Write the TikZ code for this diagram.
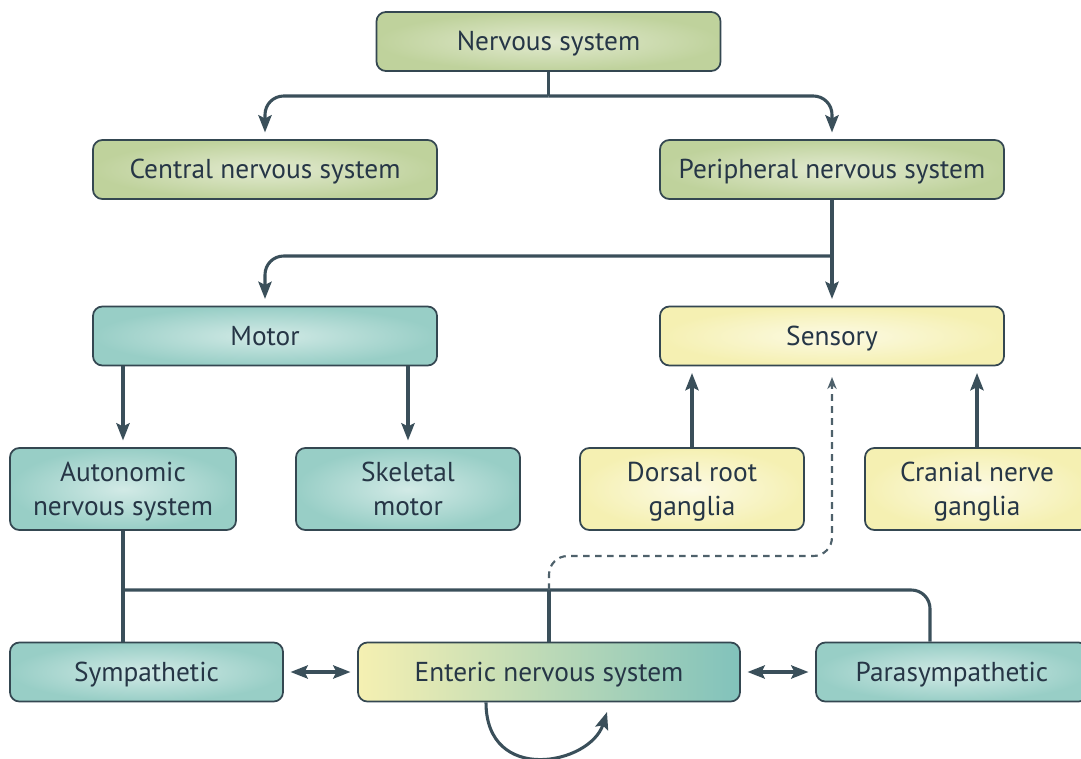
\documentclass[tikz,border=0pt]{standalone}
\usepackage{fontspec}
\setmainfont{PT Sans}
\usetikzlibrary{arrows.meta}
\definecolor{linec}{HTML}{3A4F5A}
\definecolor{txt}{HTML}{263646}
\definecolor{gOut}{HTML}{BFD29C}
\definecolor{gIn}{HTML}{E2EAD0}
\definecolor{tOut}{HTML}{98CEC6}
\definecolor{tIn}{HTML}{D2EAE6}
\definecolor{yOut}{HTML}{F5F0B2}
\definecolor{yIn}{HTML}{FCFAE4}
\tikzset{
  box/.style={draw=linec!90!black, line width=1.3pt, rounded corners=7pt, align=center,
    text=txt, font=\fontsize{20.5}{25.5}\selectfont, inner sep=0pt, text depth=0.5pt,
    minimum height=44.25pt},
  gbox/.style={box, inner color=gIn, outer color=gOut},
  tbox/.style={box, inner color=tIn, outer color=tOut},
  ybox/.style={box, inner color=yIn, outer color=yOut},
  line/.style={draw=linec, line width=2.3pt},
  arr/.style={line, -{Stealth[length=13pt,width=10pt,inset=2.5pt]}, shorten >=5pt},
  darr/.style={line, {Stealth[length=13pt,width=10pt,inset=2.5pt]}-{Stealth[length=13pt,width=10pt,inset=2.5pt]}, shorten >=5pt, shorten <=5pt},
  dashline/.style={draw=linec!90, line width=1.6pt, dash pattern=on 5pt off 4pt},
}
\begin{document}
\begin{tikzpicture}[x=0.75pt,y=-0.75pt]
\useasboundingbox (0,0) rectangle (1081,759);
\clip (0,0) rectangle (1081,759);
% nodes
\node[gbox, minimum width=258pt] (ns) at (548.5,41.5) {Nervous system};
\node[gbox, minimum width=258pt] (cns) at (265,169.5) {Central nervous system};
\node[gbox, minimum width=258pt] (pns) at (832,169.5) {Peripheral nervous system};
\node[tbox, minimum width=258pt] (motor) at (265,336) {Motor};
\node[ybox, minimum width=258pt] (sens) at (832,336) {Sensory};
\node[tbox, minimum width=169.5pt, minimum height=61.5pt] (ans) at (123,489) {Autonomic\\nervous system};
\node[tbox, minimum width=168pt, minimum height=61.5pt] (skm) at (408,489) {Skeletal\\motor};
\node[ybox, minimum width=168pt, minimum height=61.5pt] (drg) at (692,489) {Dorsal root\\ganglia};
\node[ybox, minimum width=168pt, minimum height=61.5pt] (cng) at (977,489) {Cranial nerve\\ganglia};
\node[tbox, minimum width=204.75pt] (sym) at (146.5,672) {Sympathetic};
\node[box, minimum width=286.5pt, shading=axis, left color=yOut, middle color=yIn!60!tIn, right color=tOut!85!teal, shading angle=90] (ens) at (549,672) {Enteric nervous system};
\node[tbox, minimum width=204pt] (para) at (952,672) {Parasympathetic};
% coordinates
\coordinate (r1) at (0,96);
\coordinate (r2) at (0,256);
\coordinate (bus) at (0,590);
\coordinate (dsh) at (0,556);
\coordinate (px) at (930,0);
\coordinate (loopend) at (607,712);
\coordinate (loopstart) at (486,0);
% connectors
\draw[line] (ns.south) -- (ns.south |- r1);
\draw[arr, rounded corners=14pt] (ns.south |- r1) -| (cns.north);
\draw[arr, rounded corners=14pt] (ns.south |- r1) -| (pns.north);
\draw[arr] (pns.south) -- (sens.north);
\draw[arr, rounded corners=14pt] (pns.south |- r2) -| (motor.north);
\draw[arr] (ans.north |- motor.south) -- (ans.north);
\draw[arr] (skm.north |- motor.south) -- (skm.north);
\draw[arr] (drg.north) -- (drg.north |- sens.south);
\draw[arr] (cng.north) -- (cng.north |- sens.south);
\draw[line] (ans.south) -- (ans.south |- sym.north);
\draw[line, rounded corners=14pt] (ans.south |- bus) -| (px |- para.north);
\draw[line] (ens.north) -- (ens.north |- bus);
\draw[dashline, -{Stealth[length=9pt,width=7pt]}, shorten >=8pt, rounded corners=14pt]
  (ens.north |- bus) -- (ens.north |- dsh) -| (sens.south);
\draw[darr] (sym.east) -- (ens.west);
\draw[darr] (ens.east) -- (para.west);
\draw[arr, shorten >=0pt] (loopstart |- ens.south) .. controls (486,785) and (590,765) .. (loopend);
\end{tikzpicture}
\end{document}
